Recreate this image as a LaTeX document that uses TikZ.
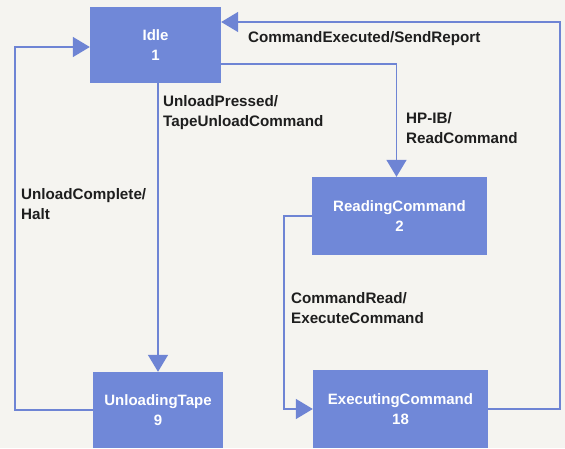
\documentclass[tikz,border=0pt]{standalone}
\usepackage{fontspec}
\setmainfont{Liberation Sans}
\usetikzlibrary{arrows.meta}
\definecolor{boxblue}{RGB}{112,136,216}
\definecolor{lineblue}{RGB}{110,132,212}
\definecolor{bgc}{RGB}{245,244,240}
\definecolor{ink}{RGB}{30,30,30}
\begin{document}
\begin{tikzpicture}[x=1pt,y=-1pt,
  state/.style={fill=boxblue, draw=none, text=white, font=\bfseries\fontsize{15}{20}\selectfont, align=center, inner sep=0pt},
  lbl/.style={text=ink, font=\bfseries\fontsize{15.2}{20}\selectfont, align=left, anchor=west, inner sep=0pt},
  arr/.style={draw=lineblue, line width=1.6pt, -{Triangle[length=17pt,width=20pt]}}]
\fill[bgc] (0,0) rectangle (565,448);
\useasboundingbox (0,0) rectangle (565,448);
% states
\node[state, minimum width=131pt, minimum height=76pt] (idle) at (155.5,45) {Idle\\1};
\node[state, minimum width=175pt, minimum height=78pt] (read) at (399.5,216) {ReadingCommand\\2};
\node[state, minimum width=130pt, minimum height=76pt] (unload) at (158,410) {UnloadingTape\\9};
\node[state, minimum width=175pt, minimum height=78pt] (exec) at (400.5,409) {ExecutingCommand\\18};
% helper coordinates
\coordinate (lc) at (15,47);
\coordinate (rc) at (560,22);
\coordinate (mc) at (284,300);
% connectors
\draw[arr] (unload.north |- idle.south) -- (unload.north);
\draw[arr] (unload.west) -| (lc) -- (lc -| idle.west);
\draw[arr] ([yshift=-19pt]idle.east) -| ([xshift=-3pt]read.north);
\draw[arr] (read.west) -- (read.west -| mc) |- (exec.west);
\draw[arr] (exec.east) -| (rc) -- (rc -| idle.east);
% labels
\node[lbl] (l1) at (163,113) {UnloadPressed/\\TapeUnloadCommand};
\node[lbl] (l2) at (248,39) {CommandExecuted/SendReport};
\node[lbl] (l3) at (406,128) {HP-IB/\\ReadCommand};
\node[lbl] (l4) at (21,204) {UnloadComplete/\\Halt};
\node[lbl] (l5) at (291,308.5) {CommandRead/\\ExecuteCommand};
\end{tikzpicture}
\end{document}
